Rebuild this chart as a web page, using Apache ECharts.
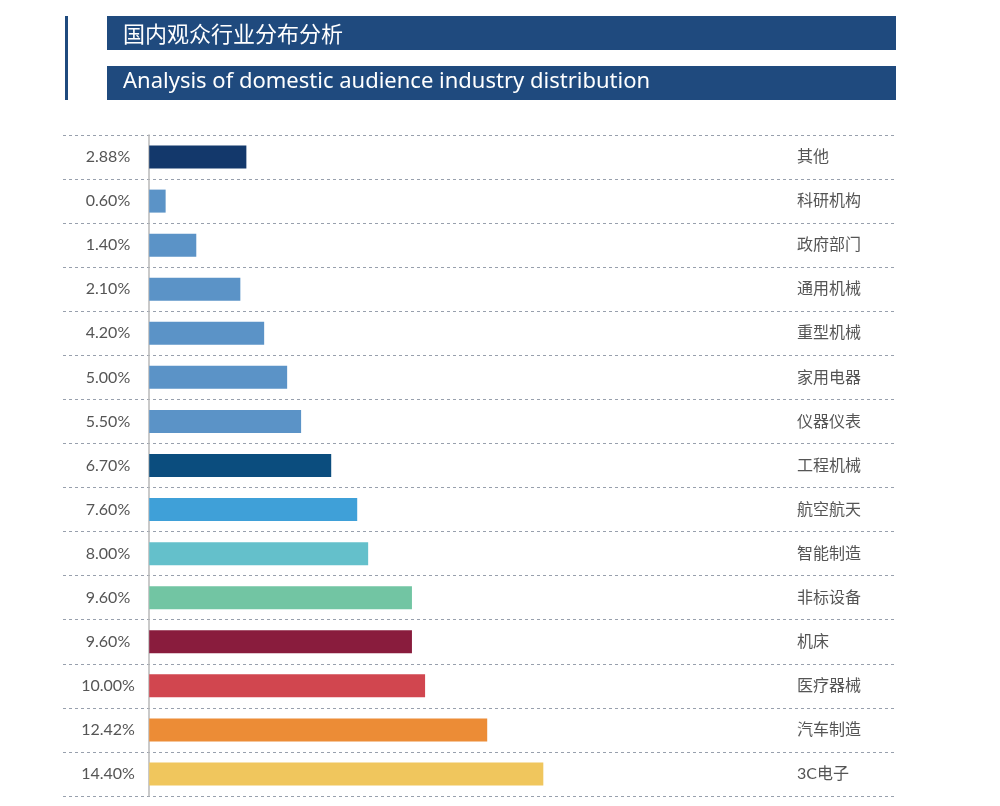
<!DOCTYPE html>
<html>
<head>
<meta charset="utf-8">
<script src="https://cdn.jsdelivr.net/npm/echarts@6/dist/echarts.min.js"></script>
<style>
  html, body { margin: 0; padding: 0; background: #fff; }
  #chart { width: 1000px; height: 806px; }
</style>
</head>
<body>
<div id="chart"></div>
<script>
// 行业分布数据
var categories = ['其他', '科研机构', '政府部门', '通用机械', '重型机械', '家用电器', '仪器仪表', '工程机械', '航空航天', '智能制造', '非标设备', '机床', '医疗器械', '汽车制造', '3C电子'];
var percentLabels = ['2.88%', '0.60%', '1.40%', '2.10%', '4.20%', '5.00%', '5.50%', '6.70%', '7.60%', '8.00%', '9.60%', '9.60%', '10.00%', '12.42%', '14.40%'];
// 柱长按图中读出
var barValues = [3.55, 0.6, 1.72, 3.33, 4.2, 5.04, 5.55, 6.65, 7.6, 8.0, 9.6, 9.6, 10.08, 12.35, 14.4];
var barColors = ['#13386b', '#5b93c7', '#5b93c7', '#5b93c7', '#5b93c7', '#5b93c7', '#5b93c7', '#0b4d7e', '#3fa0d8', '#64c0cb', '#72c5a3', '#891c3d', '#d1464f', '#ec8c36', '#f0c65d'];

var titleCn = '国内观众行业分布分析';
var titleEn = 'Analysis of domestic audience industry distribution';

var chart = echarts.init(document.getElementById('chart'));
var font = 'Lato, "Noto Sans CJK SC", sans-serif';

chart.setOption({
  animation: false,
  graphic: [
    { type: 'rect', shape: { x: 65, y: 16, width: 3, height: 84 }, style: { fill: '#1f4a7e' } },
    { type: 'rect', shape: { x: 107, y: 16, width: 789, height: 34 }, style: { fill: '#1f4a7e' } },
    { type: 'rect', shape: { x: 107, y: 66, width: 789, height: 34 }, style: { fill: '#1f4a7e' } },
    { type: 'text', left: 123, top: 23, style: { text: titleCn, fill: '#fff', font: '22px "Noto Sans CJK SC", sans-serif' } },
    { type: 'text', left: 123, top: 71, style: { text: titleEn, fill: '#fff', font: '22px "Noto Sans", sans-serif' } }
  ],
  grid: { left: 63, right: 105, top: 135, bottom: 10, outerBoundsMode: 'none', containLabel: false },
  xAxis: {
    type: 'value', min: -3.15, max: 27.25,
    show: false, splitLine: { show: false }
  },
  yAxis: [{
    type: 'category', inverse: true, data: percentLabels,
    axisLine: { onZero: true, lineStyle: { color: '#b9b9b9', width: 1.5 } },
    axisTick: { show: false },
    axisLabel: { margin: -45, align: 'center', color: '#555', fontSize: 16, fontFamily: font },
    splitLine: { show: true, lineStyle: { color: '#98a0ad', type: [3, 3], width: 1 } }
  }, {
    type: 'category', inverse: true, data: categories, position: 'right', offset: -98,
    axisLine: { show: false, onZero: false },
    axisTick: { show: false },
    axisLabel: { margin: 0, align: 'left', color: '#555', fontSize: 16, fontFamily: font }
  }],
  series: [{
    type: 'bar', barWidth: 23,
    data: barValues.map(function (v, i) { return { value: v, itemStyle: { color: barColors[i] } }; })
  }]
});
</script>
</body>
</html>
